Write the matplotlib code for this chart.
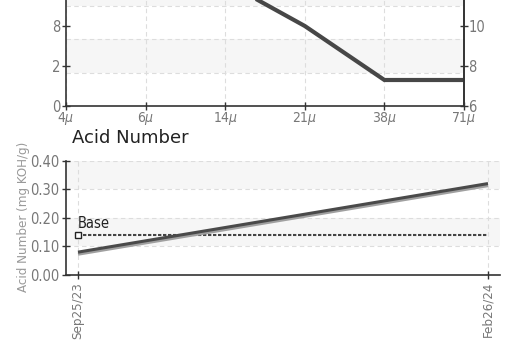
import matplotlib
matplotlib.use("Agg")
import matplotlib.pyplot as plt
import matplotlib.patheffects as pe
import matplotlib.dates as mdates
import datetime as dt
from matplotlib import font_manager

# ---------------- data ----------------
# Top panel (particle count, ISO code scale on the right)
sizes = ["4$\\mu$", "6$\\mu$", "14$\\mu$", "21$\\mu$", "38$\\mu$", "71$\\mu$"]
iso_codes = [15.5, 14.0, 12.2, 10.0, 7.3, 7.3]
code_ticks = [6, 8, 10]
count_labels = ["0", "2", "8"]
code_labels = ["6", "8", "10"]

# Bottom panel (Acid Number)
acid_dates = [dt.date(2023, 9, 25), dt.date(2024, 2, 26)]
acid_values = [0.08, 0.32]
acid_date_labels = ["Sep25/23", "Feb26/24"]
base_value = 0.14
acid_yticks = [0.00, 0.10, 0.20, 0.30, 0.40]

# ---------------- style ----------------
cond = [f for f in font_manager.fontManager.ttflist
        if f.name == "DejaVu Sans" and f.stretch == "condensed" and f.style == "normal"
        and f.weight in (400, "normal")]
narrow_names = {f.name for f in font_manager.fontManager.ttflist}
if "Liberation Sans Narrow" in narrow_names:
    plt.rcParams['font.family'] = ['Liberation Sans Narrow', 'DejaVu Sans']
    condensed = True
elif cond:
    plt.rcParams['font.family'] = ['DejaVu Sans']
    plt.rcParams['font.stretch'] = 'condensed'
    condensed = True
else:
    plt.rcParams['font.family'] = ['DejaVu Sans']
    condensed = False

TICK_C = "#777777"
SPINE_C = "#333333"
GRID_C = "#dddddd"
BAND_C = "#f6f6f6"
LS = 10.5 if condensed else 9

W, H = 508, 353
fig = plt.figure(figsize=(W / 100, H / 100), dpi=100)

def fx(px):
    return px / W

def fy(py):
    return 1 - py / H

# ---------------- top panel ----------------
top_bottom_px, top_top_px = 106, -95
ax = fig.add_axes([fx(66), fy(top_bottom_px), fx(464 - 66), (top_bottom_px - top_top_px) / H])
ax.set_xlim(0, len(sizes) - 1)
ymin, ymax = 6, 6 + (top_bottom_px - top_top_px) / 20
ax.set_ylim(ymin, ymax)

step = 33.5 / 20
levels = [ymin + i * step for i in range(8)]
for i in range(len(levels) - 1):
    if i % 2 == 1:
        ax.axhspan(levels[i], levels[i + 1], color=BAND_C, zorder=0, lw=0)
for lv in levels[1:]:
    ax.axhline(lv, color=GRID_C, ls=(0, (4, 3)), lw=0.8, zorder=1)
for i in range(len(sizes)):
    ax.axvline(i, color=GRID_C, ls=(0, (4, 3)), lw=0.8, zorder=1)

ax.plot(range(len(sizes)), iso_codes, color="#474747", lw=3.0, zorder=3,
        solid_joinstyle="miter", solid_capstyle="butt")

ax.set_xticks(range(len(sizes)))
ax.set_xticklabels(sizes)
ax.set_yticks(code_ticks)
ax.set_yticklabels(count_labels)
ax.tick_params(axis='y', direction='inout', length=6, width=1, color=SPINE_C,
               labelcolor=TICK_C, labelsize=LS, pad=1)
ax.tick_params(axis='x', direction='inout', length=6, width=1, color=SPINE_C,
               labelcolor=TICK_C, labelsize=LS - 0.5, pad=0)
ax.spines["top"].set_visible(False)
for s in ["left", "bottom", "right"]:
    ax.spines[s].set_color(SPINE_C)
    ax.spines[s].set_linewidth(1.2)

ax2 = ax.twinx()
ax2.set_ylim(ymin, ymax)
ax2.set_yticks(code_ticks)
ax2.set_yticklabels(code_labels)
ax2.tick_params(axis='y', direction='inout', length=6, width=1, color=SPINE_C,
                labelcolor=TICK_C, labelsize=LS, pad=0)
for s in ["top", "left", "bottom"]:
    ax2.spines[s].set_visible(False)
ax2.spines["right"].set_color(SPINE_C)
ax2.spines["right"].set_linewidth(1.2)

# ---------------- bottom panel ----------------
bx = fig.add_axes([fx(66), fy(275), fx(500 - 66), (275 - 160.7) / H])
d0 = mdates.date2num(acid_dates[0])
d1 = mdates.date2num(acid_dates[1])
pad = (d1 - d0) * 12 / 410
bx.set_xlim(d0 - pad, d1 + pad)
bx.set_ylim(0, 0.40)

for lo, hi in [(0.30, 0.40), (0.10, 0.20)]:
    bx.axhspan(lo, hi, color=BAND_C, zorder=0, lw=0)
for v in acid_yticks[1:]:
    bx.axhline(v, color=GRID_C, ls=(0, (4, 3)), lw=0.8, zorder=1)
for d in (d0, d1):
    bx.axvline(d, color=GRID_C, ls=(0, (4, 3)), lw=0.8, zorder=1)

bx.plot([d0, d1], acid_values, color="#4a4a4a", lw=2.2, zorder=4,
        solid_capstyle="butt",
        path_effects=[pe.SimpleLineShadow(offset=(0, -1.5), shadow_color="#a0a0a0", alpha=1.0),
                      pe.Normal()])
bx.plot([d0, d1], [base_value, base_value], color="#444444", lw=1.5,
        ls=(0, (1.6, 0.8)), zorder=3)
bx.plot([d0], [base_value], marker="s", ms=4.5, mfc="white", mec="#222222",
        mew=1, zorder=5, ls="none")
bx.annotate("Base", (d0, base_value), xytext=(0, 3), textcoords="offset points",
            ha="left", va="bottom", fontsize=LS, color="#222222")

bx.set_xticks([d0, d1])
bx.set_xticklabels(acid_date_labels, rotation=90)
bx.set_yticks(acid_yticks)
bx.set_yticklabels([f"{v:.2f}" for v in acid_yticks])
bx.tick_params(axis='y', direction='inout', length=6, width=1, color=SPINE_C,
               labelcolor=TICK_C, labelsize=LS, pad=2)
bx.tick_params(axis='x', direction='inout', length=6, width=1, color=SPINE_C,
               labelcolor=TICK_C, labelsize=LS - 1, pad=2)
for s in ["top", "right"]:
    bx.spines[s].set_visible(False)
for s in ["left", "bottom"]:
    bx.spines[s].set_color(SPINE_C)
    bx.spines[s].set_linewidth(1.2)

bx.set_ylabel("Acid Number (mg KOH/g)", color="#999999", fontsize=LS - 1, labelpad=3)
bx.yaxis.set_label_coords(-0.082, 0.51)

fig.text(fx(72), fy(138), "Acid Number", ha="left", va="center", fontsize=13,
         color="#222222", family="DejaVu Sans", stretch="normal")

fig.savefig("out.png", dpi=100)
